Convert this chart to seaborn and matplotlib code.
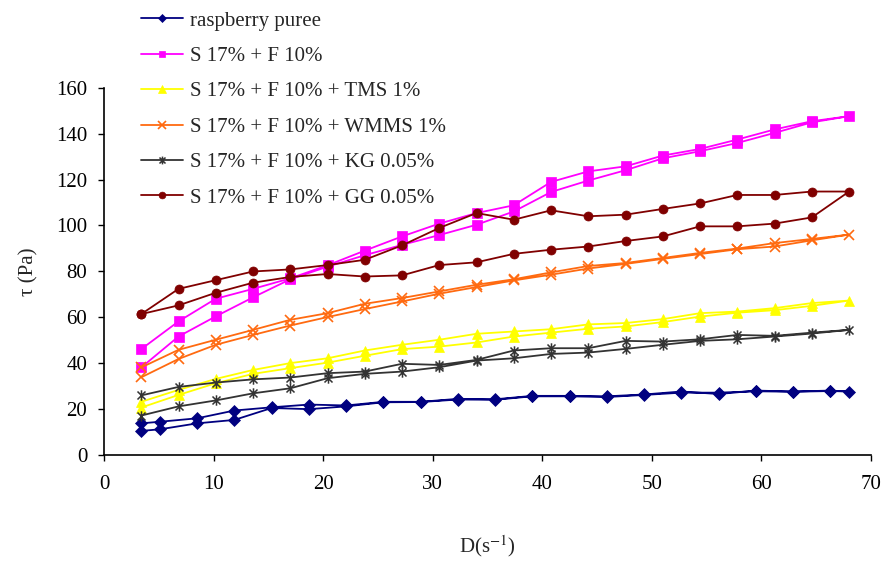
import numpy as np
import pandas as pd
import matplotlib
matplotlib.use("Agg")
import matplotlib.pyplot as plt
from matplotlib.path import Path
import seaborn as sns

# ---------------- data ----------------
labels = ["raspberry puree", "S 17% + F 10%", "S 17% + F 10% + TMS 1%",
          "S 17% + F 10% + WMMS 1%", "S 17% + F 10% + KG 0.05%",
          "S 17% + F 10% + GG 0.05%"]

# shear rates (1/s)
d_rasp = [3.4, 5.1, 8.5, 11.9, 15.3, 18.7, 22.1, 25.5, 28.9, 32.3, 35.7,
          39.1, 42.5, 45.9, 49.3, 52.7, 56.1, 59.5, 62.9, 66.3, 68.0]
d_main = [3.4, 6.8, 10.2, 13.6, 17.0, 20.4, 23.8, 27.2, 30.6, 34.0, 37.4,
          40.8, 44.2, 47.6, 51.0, 54.4, 57.8, 61.2, 64.6, 68.0]

# upward curves (all points) and downward curves (listed for increasing D, last point excluded)
rasp_up = [13.6, 14.3, 15.8, 19.2, 20.6, 21.8, 21.4, 23.0, 23.0, 24.3, 24.1,
           25.6, 25.6, 25.4, 26.2, 27.5, 26.4, 27.9, 27.5, 27.9, 27.5]
rasp_down = [10.3, 11.0, 13.6, 15.1, 20.3, 19.8, 21.0, 22.8, 22.9, 24.0, 23.9,
             25.4, 25.4, 25.1, 26.0, 27.0, 27.0, 27.6, 27.4, 27.7]

sf_up = [46.0, 58.1, 68.0, 72.3, 76.9, 82.6, 89.0, 95.2, 100.8, 105.4, 108.8,
         119.0, 123.6, 125.8, 130.5, 133.4, 137.5, 141.9, 145.5, 147.7]
sf_down = [38.0, 51.5, 60.3, 68.6, 76.5, 82.0, 87.0, 91.5, 95.8, 100.3, 106.1,
           114.6, 119.6, 124.1, 129.3, 132.4, 136.0, 140.4, 145.0]

tms_up = [23.0, 28.2, 33.0, 36.9, 39.9, 42.0, 45.4, 47.9, 50.1, 52.7, 53.7,
          54.7, 56.8, 57.4, 59.1, 61.7, 62.4, 63.9, 66.1, 67.2]
tms_down = [20.5, 26.0, 31.1, 35.2, 37.7, 40.1, 43.1, 46.0, 47.1, 48.9, 51.5,
            53.2, 54.9, 55.9, 57.8, 60.2, 61.9, 63.0, 64.9]

wmms_up = [38.0, 45.7, 50.1, 54.4, 58.8, 61.7, 65.8, 68.3, 71.2, 74.1, 76.5,
           79.5, 82.3, 83.6, 85.8, 88.0, 89.9, 92.3, 94.1, 96.0]
wmms_down = [33.7, 41.7, 47.9, 52.2, 56.3, 60.0, 63.5, 66.8, 70.2, 73.1, 76.0,
             78.5, 81.2, 83.2, 85.4, 87.5, 89.6, 90.8, 93.5]

kg_up = [25.8, 29.5, 31.4, 32.8, 33.6, 35.5, 36.2, 39.6, 39.1, 41.3, 45.4,
         46.4, 46.4, 49.6, 49.3, 50.3, 52.2, 51.8, 53.2, 54.4]
kg_down = [17.0, 21.0, 23.6, 26.7, 28.9, 33.3, 35.2, 36.2, 38.1, 41.0, 42.0,
           43.9, 44.5, 46.1, 47.9, 49.6, 50.3, 51.5, 52.8]

gg_up = [61.3, 72.3, 76.1, 79.9, 80.8, 82.7, 85.0, 91.3, 98.9, 105.4, 102.5,
         106.6, 104.0, 104.7, 107.2, 109.6, 113.3, 113.3, 114.8, 114.8]
gg_down = [61.3, 65.1, 70.6, 75.0, 77.5, 78.8, 77.7, 78.2, 82.7, 83.9, 87.6,
           89.4, 90.8, 93.2, 95.2, 99.6, 99.6, 100.8, 103.5]

x_ticks = [0, 10, 20, 30, 40, 50, 60, 70]
y_ticks = [0, 20, 40, 60, 80, 100, 120, 140, 160]

colors = ["#000080", "#FF00FF", "#FFFF00", "#FF6A10", "#333333", "#800000"]

# ---------------- build long table (one loop per sample) ----------------
series = [(d_rasp, rasp_up, rasp_down), (d_main, sf_up, sf_down),
          (d_main, tms_up, tms_down), (d_main, wmms_up, wmms_down),
          (d_main, kg_up, kg_down), (d_main, gg_up, gg_down)]
rows = []
for lab, (d, up, down) in zip(labels, series):
    xs = list(d) + list(d[:len(down)])[::-1]
    ys = list(up) + list(down)[::-1]
    for xv, yv in zip(xs, ys):
        rows.append((lab, xv, yv))
df = pd.DataFrame(rows, columns=["sample", "D", "tau"])

# ---------------- style ----------------
sns.set_theme(style="ticks")
plt.rcParams["font.family"] = ["Liberation Serif", "DejaVu Serif"]
plt.rcParams["mathtext.fontset"] = "stix"
FS = 15

star = Path([(-1, -1), (1, 1), (-1, 1), (1, -1), (0, -1.3), (0, 1.3)],
            [Path.MOVETO, Path.LINETO, Path.MOVETO, Path.LINETO,
             Path.MOVETO, Path.LINETO])
marker_list = ["D", "s", "^", "x", star, "o"]
msizes = [6.0, 6.5, 7.5, 7.5, 7.5, 6.5]
mews = [0.5, 0.5, 0.5, 1.2, 1.1, 0.5]

fig = plt.figure(figsize=(8.82, 5.63), dpi=100)
ax = fig.add_axes([104 / 882, 1 - 454.5 / 563, (871 - 104) / 882, (454.5 - 88) / 563])

sns.lineplot(data=df, x="D", y="tau", hue="sample", hue_order=labels,
             palette=dict(zip(labels, colors)), sort=False, estimator=None,
             linewidth=1.3, ax=ax, legend=False)

lines = ax.get_lines()[:6]
for ln, c, mk, ms, mw in zip(lines, colors, marker_list, msizes, mews):
    ln.set_color(c)
    ln.set_marker(mk)
    ln.set_markerfacecolor(c)
    ln.set_markeredgecolor(c)
    ln.set_markersize(ms)
    ln.set_markeredgewidth(mw)

ax.set_xlim(0, 70)
ax.set_ylim(0, 160)
ax.set_xticks(x_ticks)
ax.set_yticks(y_ticks)
ax.tick_params(axis="both", direction="out", length=4, width=1, colors="black",
               labelsize=FS)
ax.tick_params(axis="x", pad=11)
ax.tick_params(axis="y", pad=8)
sns.despine(ax=ax)
for sp in ["left", "bottom"]:
    ax.spines[sp].set_color("black")
    ax.spines[sp].set_linewidth(1.2)

ax.set_xlabel(r"D(s$^{-1}$)", fontsize=FS, labelpad=28)
ax.set_ylabel("τ (Pa)", fontsize=FS, labelpad=13)

leg = ax.legend(handles=lines, labels=labels, loc="upper left",
                bbox_to_anchor=(141 / 882, 1 - 11 / 563),
                bbox_transform=fig.transFigure, frameon=False, fontsize=FS,
                handlelength=2.0, handletextpad=0.34, labelspacing=0.76,
                borderpad=0, borderaxespad=0, markerscale=0.75)

fig.savefig("out.png", dpi=100)
